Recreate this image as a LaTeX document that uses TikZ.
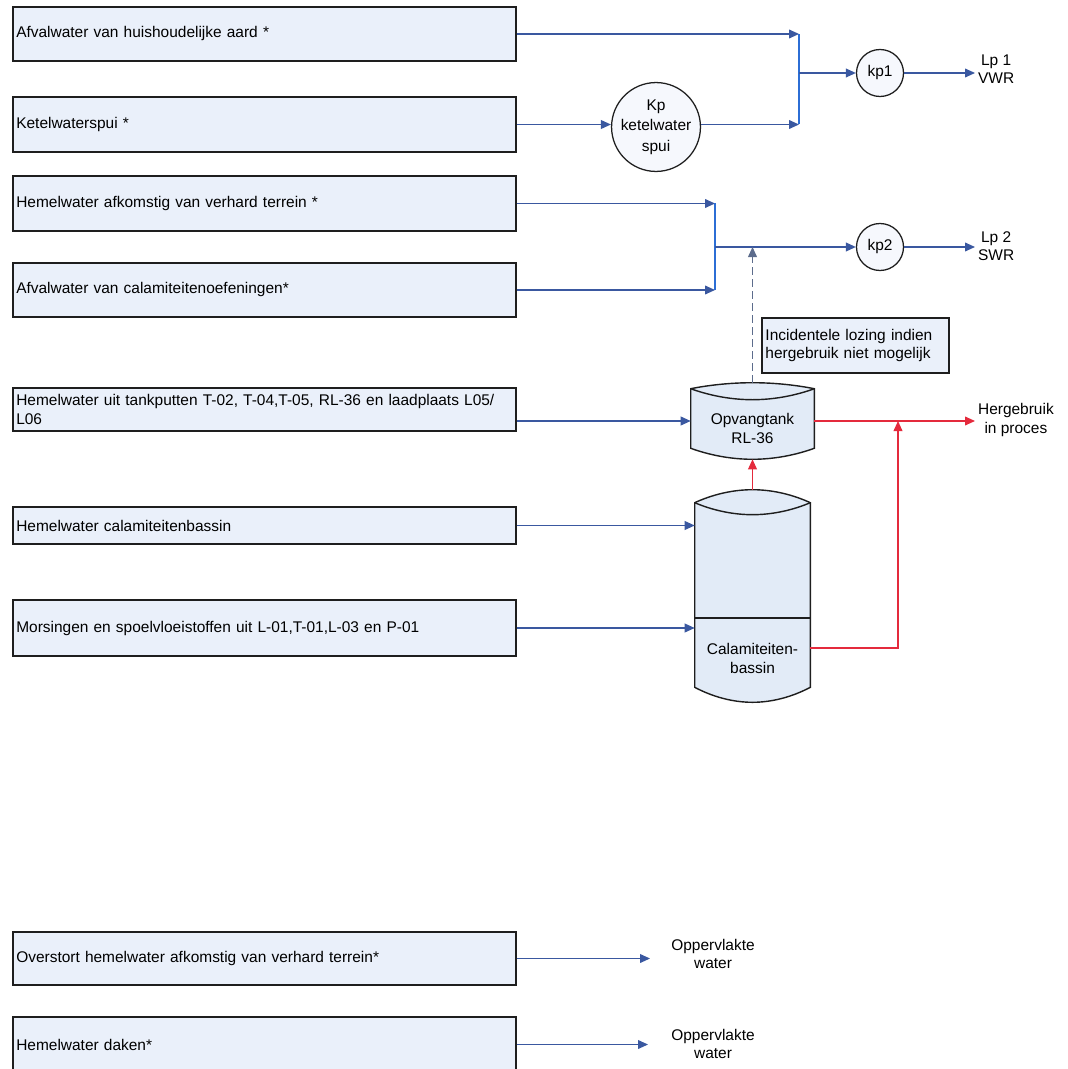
\documentclass[tikz,border=0pt]{standalone}
\usepackage{fontspec}
\setmainfont{Liberation Sans}
\usetikzlibrary{arrows.meta,calc}
\definecolor{ink}{HTML}{1E1E1E}
\definecolor{boxfill}{HTML}{EAF0FA}
\definecolor{flowblue}{HTML}{3A58A0}
\definecolor{mergeblue}{HTML}{2C6ED5}
\definecolor{reusered}{HTML}{E42A3C}
\definecolor{tankfill}{HTML}{E2EBF7}
\definecolor{dashgray}{HTML}{5C6C8C}

\begin{document}
\begin{tikzpicture}[x=0.025cm,y=-0.025cm]
    \tikzset{
      srcbox/.style={draw=ink,line width=1.1pt,fill=boxfill,anchor=west,minimum width=12.575cm,text width=12.4cm,inner xsep=2.5pt,align=left,font=\fontsize{11}{13.5}\selectfont},
      pump/.style={circle,draw=ink,line width=0.9pt,fill=boxfill!45,inner sep=0pt,align=center,font=\fontsize{11}{14.5}\selectfont},
      note/.style={draw=ink,line width=1pt,fill=boxfill,minimum width=4.675cm,minimum height=1.375cm,text width=4.5cm,inner xsep=2pt,align=left,font=\fontsize{11}{13}\selectfont},
      lbl/.style={align=center,inner sep=2pt,font=\fontsize{11}{13}\selectfont},
      tankbody/.style={draw=none,inner sep=0pt},
      tank/.style={draw=ink,line width=1pt,fill=tankfill},
      tankedge/.style={draw=ink,line width=1pt},
      tanktext/.style={align=center,inner sep=0pt,font=\fontsize{11}{13.5}\selectfont},
      flow/.style={-{Triangle[length=2.5mm,width=2.2mm]},draw=flowblue,line width=0.9pt},
      merge/.style={draw=mergeblue,line width=1.1pt},
      reuse/.style={-{Triangle[length=2.5mm,width=2.2mm]},draw=reusered,line width=0.9pt},
      lozing/.style={-{Triangle[length=2.5mm,width=2.2mm]},draw=dashgray,line width=0.9pt,dash pattern=on 2mm off 1mm}
    }
    \useasboundingbox (0,0) rectangle (1067,1069);
    \node[srcbox,minimum height=1.35cm] (afval) at (12,34) {Afvalwater van huishoudelijke aard *};
    \node[srcbox,minimum height=1.375cm] (ketel) at (12,124.5) {Ketelwaterspui *};
    \node[srcbox,minimum height=1.375cm] (verhard) at (12,203.5) {Hemelwater afkomstig van verhard terrein *};
    \node[srcbox,minimum height=1.35cm] (oefening) at (12,290) {Afvalwater van calamiteitenoefeningen*};
    \node[srcbox,minimum height=1.075cm] (tankput) at (12,409.5) {Hemelwater uit tankputten T-02, T-04,T-05, RL-36 en laadplaats L05/\\L06};
    \node[srcbox,minimum height=0.925cm] (bassinhw) at (12,525.5) {Hemelwater calamiteitenbassin};
    \node[srcbox,minimum height=1.4cm] (morsing) at (12,628) {Morsingen en spoelvloeistoffen uit L-01,T-01,L-03 en P-01};
    \node[srcbox,minimum height=1.325cm] (overstort) at (12,958.5) {Overstort hemelwater afkomstig van verhard terrein*};
    \node[srcbox,minimum height=1.375cm] (daken) at (12,1044.5) {Hemelwater daken*};
    \node[pump,minimum size=2.1cm] (kpketel) at (656,127) {Kp\\ketelwater\\spui};
    \node[pump,minimum size=1.175cm] (kp1) at (880,73) {kp1};
    \node[pump,minimum size=1.175cm] (kp2) at (880,247) {kp2};
    \node[lbl,anchor=west] (lp1) at (975,69) {Lp 1\\VWR};
    \node[lbl,anchor=west] (lp2) at (975,246) {Lp 2\\SWR};
    \node[lbl,anchor=west] (herg) at (975,420) {Hergebruik\\in proces};
    \node[lbl] (opp1) at (713,954) {Oppervlakte\\water};
    \node[lbl] (opp2) at (713,1044) {Oppervlakte\\water};
    \node[note] (lozingtxt) at (855.5,345.5) {Incidentele lozing indien\\hergebruik niet mogelijk};
    \node[tankbody,minimum width=3.075cm,minimum height=1.9cm] (opv) at (752.5,421) {};
    \node[tankbody,minimum width=2.875cm,minimum height=5.3cm] (cal) at (752.5,596) {};
    \draw[tank] ($(opv.north west)+(0,6)$) parabola bend (opv.north) ($(opv.north east)+(0,6)$) -- ($(opv.south east)+(0,-11)$) parabola bend (opv.south) ($(opv.south west)+(0,-11)$) -- cycle;
    \draw[tankedge] ($(opv.north west)+(0,6)$) parabola bend ($(opv.north)+(0,17)$) ($(opv.north east)+(0,6)$);
    \draw[tank] ($(cal.north west)+(0,13)$) parabola bend (cal.north) ($(cal.north east)+(0,13)$) -- ($(cal.south east)+(0,-15)$) parabola bend (cal.south) ($(cal.south west)+(0,-15)$) -- cycle;
    \draw[tankedge] ($(cal.north west)+(0,13)$) parabola bend ($(cal.north)+(0,25)$) ($(cal.north east)+(0,13)$);
    \draw[tankedge] ($(cal.west)+(0,22)$) -- ($(cal.east)+(0,22)$);
    \node[tanktext] (opvtxt) at (752.5,428) {Opvangtank\\RL-36};
    \node[tanktext] (caltxt) at (752.5,658) {Calamiteiten-\\bassin};
    \coordinate (j1top) at (799,34);
    \coordinate (j1bot) at (799,124.5);
    \coordinate (j1) at (799,73);
    \coordinate (j2top) at (715,203.5);
    \coordinate (j2bot) at (715,290);
    \coordinate (j2) at (715,247);
    \coordinate (rtee) at (898,421);
    \coordinate (opp1in) at (650,958.5);
    \coordinate (opp2in) at (648,1044.5);
    \draw[flow] (afval.east) -- (j1top);
    \draw[flow] (ketel.east) -- (ketel.east -| kpketel.west);
    \draw[flow] (kpketel.east |- j1bot) -- (j1bot);
    \draw[merge] (j1top) -- (j1bot);
    \draw[flow] (j1) -- (kp1);
    \draw[flow] (kp1) -- (kp1 -| lp1.west);
    \draw[flow] (verhard.east) -- (j2top);
    \draw[flow] (oefening.east) -- (j2bot);
    \draw[merge] (j2top) -- (j2bot);
    \draw[flow] (j2) -- (kp2);
    \draw[flow] (kp2) -- (kp2 -| lp2.west);
    \draw[lozing] (opv.north) -- (opv.north |- j2);
    \draw[flow] (tankput.east |- opv.west) -- (opv.west);
    \draw[flow] (bassinhw.east) -- (bassinhw.east -| cal.west);
    \draw[flow] (morsing.east) -- (morsing.east -| cal.west);
    \draw[reuse] (cal.north) -- (opv.south);
    \draw[reuse] (opv.east) -- (opv.east -| herg.west);
    \draw[reuse] ($(cal.east)+(0,52)$) -| (rtee);
    \draw[flow] (overstort.east) -- (opp1in);
    \draw[flow] (daken.east) -- (opp2in);
  \end{tikzpicture}
\end{document}
